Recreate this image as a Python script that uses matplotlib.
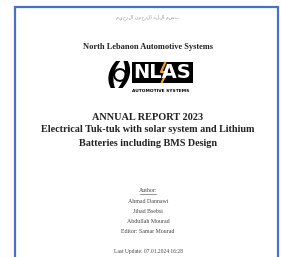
import matplotlib
matplotlib.use('Agg')
import matplotlib.pyplot as plt
from matplotlib.patches import Rectangle, RegularPolygon

# Cover page text
basmala = 'بسم الله الرحمن الرحيم'
company = 'North Lebanon Automotive Systems'
logo_word = 'NLAS'
logo_sub = 'AUTOMOTIVE SYSTEMS'
title_lines = ['ANNUAL REPORT 2023',
               'Electrical Tuk-tuk with solar system and Lithium',
               'Batteries including BMS Design']
author_head = 'Author:'
people = ['Ahmad Dannawi', 'Jihad Bsebsi', 'Abdullah Mourad', 'Editor: Samar Mourad']
last_update = 'Last Update: 07.01.2024 16:28'

W, H = 281, 257
fig = plt.figure(figsize=(W / 100, H / 100), dpi=100)
ax = fig.add_axes([0, 0, 1, 1])
ax.set_xlim(0, W)
ax.set_ylim(H, 0)
ax.axis('off')

# Page border (bottom runs off the picture)
ax.plot([15, 15, 278, 278], [H + 5, 7, 7, H + 5], color='#4472c4', lw=1.6,
        solid_joinstyle='miter')

serif = 'Liberation Serif'
cx = 148

ax.text(cx, 17, basmala[::-1], ha='center', va='center', fontsize=3.5,
        color='#9a9a9a', family='DejaVu Sans')

ax.text(cx, 47, company, ha='center', va='center', fontsize=6,
        family=serif, weight='bold', color='#222222')

# Logo: ( gear ) + black NLAS box
ax.text(113, 76, '(', ha='center', va='center', fontsize=22, weight='bold',
        style='italic', color='black')
ax.text(126, 76, ')', ha='center', va='center', fontsize=22, weight='bold',
        style='italic', color='black')
ax.add_patch(RegularPolygon((120, 75), numVertices=12, radius=6,
                            facecolor='none', edgecolor='black', lw=1.4))
ax.add_patch(Rectangle((132, 62), 61, 21, facecolor='black', edgecolor='none'))
ax.text(162.5, 73, logo_word, ha='center', va='center', fontsize=14,
        weight='bold', color='white', family='DejaVu Sans')
ax.plot([165, 161, 167, 162], [63, 72, 72, 82], color='#f2a02a', lw=1.6)
ax.text(161, 91, logo_sub, ha='center', va='center', fontsize=3.2,
        weight='bold', color='black', family='DejaVu Sans')

# Title block
ax.text(cx, 117, title_lines[0], ha='center', va='center', fontsize=7.4,
        family=serif, weight='bold', color='#222222')
ax.text(cx, 130, title_lines[1], ha='center', va='center', fontsize=7.3,
        family=serif, weight='bold', color='#222222')
ax.text(cx, 144, title_lines[2], ha='center', va='center', fontsize=7.3,
        family=serif, weight='bold', color='#222222')

# Authors
fs = 4.2
ax.text(cx, 191, author_head, ha='center', va='center', fontsize=fs,
        family=serif, color='#444444')
ax.plot([cx - 8, cx + 8], [194, 194], color='#444444', lw=0.4)
for i, name in enumerate(people):
    ax.text(cx, 201.5 + 10 * i, name, ha='center', va='center', fontsize=fs,
            family=serif, color='#444444')
ax.text(cx, 252, last_update, ha='center', va='center', fontsize=4.0,
        family=serif, color='#444444')

plt.savefig('out.png', dpi=100)
